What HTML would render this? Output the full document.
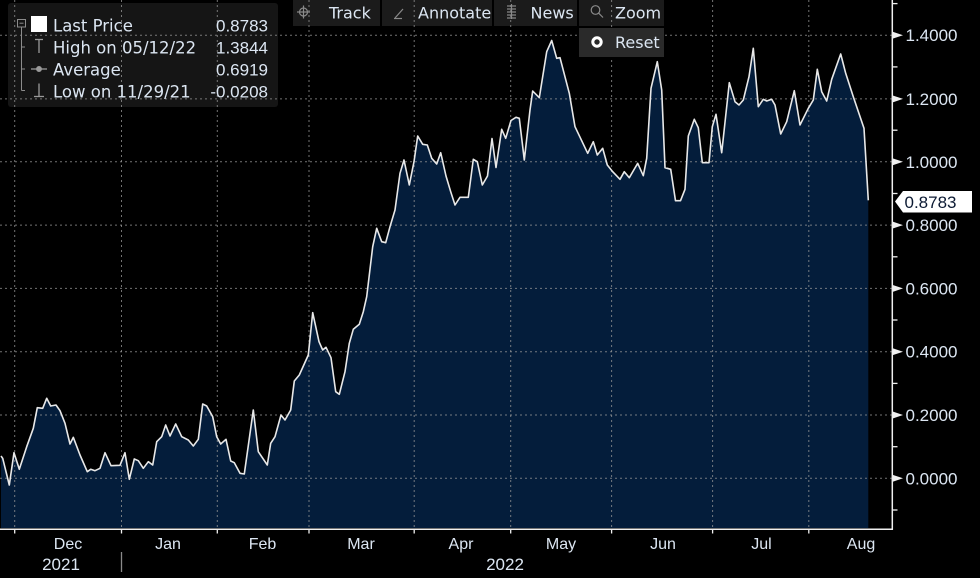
<!DOCTYPE html>
<html><head><meta charset="utf-8">
<style>
html,body{margin:0;padding:0;background:#000;}
svg{display:block;}
.t{font-family:"DejaVu Sans",sans-serif;fill:#dce6f2;}
.n{font-family:"Liberation Sans",sans-serif;fill:#dce6f2;}
</style></head>
<body>
<svg width="980" height="578" viewBox="0 0 980 578" xmlns="http://www.w3.org/2000/svg">
<rect x="0" y="0" width="980" height="578" fill="#000"/>

<!-- legend box -->
<rect x="8" y="3" width="270" height="104" rx="3" fill="#151515"/>
<!-- toolbar buttons -->
<rect x="293" y="0" width="87" height="26" fill="#1b1b1b"/>
<rect x="382" y="0" width="110" height="26" fill="#1b1b1b"/>
<rect x="494" y="0" width="83" height="26" fill="#1b1b1b"/>
<rect x="579" y="0" width="85" height="26" fill="#1b1b1b"/>

<!-- area fill -->
<path fill="#041d3b" d="M1,528 L1,456 L2.7,458.3 L9.3,485 L14,452.7 L19.3,469.3 L26.7,446.7 L33.3,428.3 L37.3,407.7 L42.7,408.3 L46.7,398.3 L50.7,406 L56,405 L60,410.7 L65,423.3 L70,444 L73.3,437.3 L80,455 L87.3,471.7 L90.7,469.3 L95,470.7 L100,468.3 L105,452.7 L111,465.7 L120,465.3 L125,452.7 L129.3,479.3 L134.3,459 L138.3,460.7 L143.3,468.3 L148.3,461.7 L152.7,465 L156.7,441.7 L161.7,436.7 L165.7,425 L170,436 L175.7,424 L181.7,436.7 L188.3,440 L193.3,446 L198.3,439.3 L202.7,404 L206.7,406 L212.7,416.7 L216.7,436.7 L220.7,444 L226,439.3 L230.7,461 L234.3,462.7 L240,473.3 L244.3,474 L253.3,410 L258.3,451.7 L267.3,465 L270.7,443.3 L275,436.7 L281,415 L285,420 L290.7,410 L294.3,381 L299.3,375 L308.3,355 L312.7,312.7 L319,341.7 L322.7,350 L326,347.3 L331,357.7 L335.7,391.7 L339.3,394.3 L345,371.7 L349.3,343.3 L353.3,329.3 L359.3,324.3 L363.3,311.7 L366.7,296.7 L372.7,246.7 L376.7,228.3 L381.7,241.7 L385.7,242.7 L390,226.7 L395,210 L400,173.3 L404,160 L409.3,185 L414,161.7 L417.7,136 L422.7,144.3 L427.3,145 L431.7,158.3 L436.7,164 L440.7,152.7 L446,176 L450.7,191.7 L455,205 L460,197.3 L468.3,197.3 L473.3,159.3 L477.3,161.7 L482.3,185 L487.5,176 L492,138.5 L496,167.5 L501.7,129.3 L505.7,138.3 L511,120.5 L516,117.3 L519.3,118.3 L524.3,160 L530,110 L532.7,91 L539.3,97.7 L546.7,51.7 L551.7,40.5 L556.7,58.3 L560,57.7 L569.3,93.3 L575,126.7 L587.7,153.3 L593.3,141.7 L597.3,155 L602.7,148.3 L607.3,165 L612.7,171.7 L620,179.3 L624.3,171.7 L629.3,177.7 L637.7,163.3 L643.3,175.7 L646.7,158.3 L651,88.3 L657.3,61.7 L661.7,90 L665,167.7 L670.7,169.3 L675.5,200.7 L680.5,200.7 L685,189.3 L688.3,136 L694.3,119.3 L698.3,127.7 L702.3,162.7 L709,162.7 L712.3,126.7 L716,114.3 L721.7,152.7 L729.3,82.7 L735,101.7 L739,105 L743.3,100 L749,76.7 L753.3,48.3 L758.3,106.7 L763.3,99.3 L766.7,101 L771.7,99.3 L775,105 L780.7,134 L786.7,121.7 L794.3,90.7 L800,125 L808.3,108.3 L813.3,100 L817.3,69.3 L821.7,91.7 L826.7,101 L831.7,79.3 L840.7,54 L845.7,73.3 L853.3,96.7 L864,128.3 L868.3,200.3 L868.3,528 Z"/>

<!-- gridlines -->
<g stroke="#9a9a9a" stroke-opacity="0.75" stroke-width="1" stroke-dasharray="2,3">
<line x1="0" y1="35.2" x2="892" y2="35.2"/>
<line x1="0" y1="98.9" x2="892" y2="98.9"/>
<line x1="0" y1="161.8" x2="892" y2="161.8"/>
<line x1="0" y1="225.1" x2="892" y2="225.1"/>
<line x1="0" y1="288.4" x2="892" y2="288.4"/>
<line x1="0" y1="351.7" x2="892" y2="351.7"/>
<line x1="0" y1="415" x2="892" y2="415"/>
<line x1="0" y1="478.3" x2="892" y2="478.3"/>
<line x1="14.7" y1="0" x2="14.7" y2="528"/>
<line x1="121.5" y1="0" x2="121.5" y2="528"/>
<line x1="217.3" y1="0" x2="217.3" y2="528"/>
<line x1="309" y1="0" x2="309" y2="528"/>
<line x1="414.2" y1="0" x2="414.2" y2="528"/>
<line x1="510.7" y1="0" x2="510.7" y2="528"/>
<line x1="611.6" y1="0" x2="611.6" y2="528"/>
<line x1="712.6" y1="0" x2="712.6" y2="528"/>
<line x1="808.8" y1="0" x2="808.8" y2="528"/>
</g>

<!-- price line -->
<path fill="none" stroke="#e8e8e8" stroke-width="1.6" stroke-linejoin="round" d="M1,456 L2.7,458.3 L9.3,485 L14,452.7 L19.3,469.3 L26.7,446.7 L33.3,428.3 L37.3,407.7 L42.7,408.3 L46.7,398.3 L50.7,406 L56,405 L60,410.7 L65,423.3 L70,444 L73.3,437.3 L80,455 L87.3,471.7 L90.7,469.3 L95,470.7 L100,468.3 L105,452.7 L111,465.7 L120,465.3 L125,452.7 L129.3,479.3 L134.3,459 L138.3,460.7 L143.3,468.3 L148.3,461.7 L152.7,465 L156.7,441.7 L161.7,436.7 L165.7,425 L170,436 L175.7,424 L181.7,436.7 L188.3,440 L193.3,446 L198.3,439.3 L202.7,404 L206.7,406 L212.7,416.7 L216.7,436.7 L220.7,444 L226,439.3 L230.7,461 L234.3,462.7 L240,473.3 L244.3,474 L253.3,410 L258.3,451.7 L267.3,465 L270.7,443.3 L275,436.7 L281,415 L285,420 L290.7,410 L294.3,381 L299.3,375 L308.3,355 L312.7,312.7 L319,341.7 L322.7,350 L326,347.3 L331,357.7 L335.7,391.7 L339.3,394.3 L345,371.7 L349.3,343.3 L353.3,329.3 L359.3,324.3 L363.3,311.7 L366.7,296.7 L372.7,246.7 L376.7,228.3 L381.7,241.7 L385.7,242.7 L390,226.7 L395,210 L400,173.3 L404,160 L409.3,185 L414,161.7 L417.7,136 L422.7,144.3 L427.3,145 L431.7,158.3 L436.7,164 L440.7,152.7 L446,176 L450.7,191.7 L455,205 L460,197.3 L468.3,197.3 L473.3,159.3 L477.3,161.7 L482.3,185 L487.5,176 L492,138.5 L496,167.5 L501.7,129.3 L505.7,138.3 L511,120.5 L516,117.3 L519.3,118.3 L524.3,160 L530,110 L532.7,91 L539.3,97.7 L546.7,51.7 L551.7,40.5 L556.7,58.3 L560,57.7 L569.3,93.3 L575,126.7 L587.7,153.3 L593.3,141.7 L597.3,155 L602.7,148.3 L607.3,165 L612.7,171.7 L620,179.3 L624.3,171.7 L629.3,177.7 L637.7,163.3 L643.3,175.7 L646.7,158.3 L651,88.3 L657.3,61.7 L661.7,90 L665,167.7 L670.7,169.3 L675.5,200.7 L680.5,200.7 L685,189.3 L688.3,136 L694.3,119.3 L698.3,127.7 L702.3,162.7 L709,162.7 L712.3,126.7 L716,114.3 L721.7,152.7 L729.3,82.7 L735,101.7 L739,105 L743.3,100 L749,76.7 L753.3,48.3 L758.3,106.7 L763.3,99.3 L766.7,101 L771.7,99.3 L775,105 L780.7,134 L786.7,121.7 L794.3,90.7 L800,125 L808.3,108.3 L813.3,100 L817.3,69.3 L821.7,91.7 L826.7,101 L831.7,79.3 L840.7,54 L845.7,73.3 L853.3,96.7 L864,128.3 L868.3,200.3"/>

<!-- axes -->
<line x1="892.3" y1="0" x2="892.3" y2="530" stroke="#f0f0f0" stroke-width="1.5"/>
<line x1="0" y1="529.3" x2="893" y2="529.3" stroke="#f0f0f0" stroke-width="1.5"/>
<g stroke="#f0f0f0" stroke-width="1.3">
<line x1="14.7" y1="529" x2="14.7" y2="533.5"/>
<line x1="121.5" y1="529" x2="121.5" y2="533.5"/>
<line x1="217.3" y1="529" x2="217.3" y2="533.5"/>
<line x1="309" y1="529" x2="309" y2="533.5"/>
<line x1="414.2" y1="529" x2="414.2" y2="533.5"/>
<line x1="510.7" y1="529" x2="510.7" y2="533.5"/>
<line x1="611.6" y1="529" x2="611.6" y2="533.5"/>
<line x1="712.6" y1="529" x2="712.6" y2="533.5"/>
<line x1="808.8" y1="529" x2="808.8" y2="533.5"/>
<!-- minor y ticks -->
<line x1="892" y1="3.6" x2="897.5" y2="3.6"/>
<line x1="892" y1="66.9" x2="897.5" y2="66.9"/>
<line x1="892" y1="130.2" x2="897.5" y2="130.2"/>
<line x1="892" y1="193.5" x2="897.5" y2="193.5"/>
<line x1="892" y1="256.8" x2="897.5" y2="256.8"/>
<line x1="892" y1="320" x2="897.5" y2="320"/>
<line x1="892" y1="383.4" x2="897.5" y2="383.4"/>
<line x1="892" y1="446.7" x2="897.5" y2="446.7"/>
<line x1="892" y1="510" x2="897.5" y2="510"/>
</g>
<g fill="#f0f0f0">
<polygon points="892,31.5 903,35.2 892,38.9"/>
<polygon points="892,95.2 903,98.9 892,102.6"/>
<polygon points="892,158.1 903,161.8 892,165.5"/>
<polygon points="892,221.4 903,225.1 892,228.8"/>
<polygon points="892,284.7 903,288.4 892,292.1"/>
<polygon points="892,348 903,351.7 892,355.4"/>
<polygon points="892,411.3 903,415 892,418.7"/>
<polygon points="892,474.6 903,478.3 892,482"/>
</g>
<g class="n" font-size="17">
<text x="905.5" y="41.2">1.4000</text>
<text x="905.5" y="104.9">1.2000</text>
<text x="905.5" y="167.8">1.0000</text>
<text x="905.5" y="231.1">0.8000</text>
<text x="905.5" y="294.4">0.6000</text>
<text x="905.5" y="357.7">0.4000</text>
<text x="905.5" y="421">0.2000</text>
<text x="905.5" y="484.3">0.0000</text>
</g>
<!-- last price tag -->
<polygon points="895,201.5 903,191 972,191 972,212.5 903,212.5" fill="#ffffff"/>
<text x="904.5" y="208" class="n" font-size="17" style="fill:#0c1a33">0.8783</text>

<!-- x labels -->
<g class="n" font-size="16" text-anchor="middle">
<text x="68" y="549">Dec</text>
<text x="168" y="549">Jan</text>
<text x="262.5" y="549">Feb</text>
<text x="361" y="549">Mar</text>
<text x="461" y="549">Apr</text>
<text x="561" y="549">May</text>
<text x="663" y="549">Jun</text>
<text x="761.5" y="549">Jul</text>
<text x="861" y="549">Aug</text>
<text x="61" y="570" font-size="17">2021</text>
<text x="505" y="570" font-size="17">2022</text>
</g>
<line x1="121.5" y1="552" x2="121.5" y2="572" stroke="#8a8a8a" stroke-width="1.3"/>

<!-- legend contents -->
<g stroke="#8c8c8c" stroke-width="1" fill="none">
<rect x="17.5" y="19.5" width="8" height="7.5"/>
<line x1="19.5" y1="23.2" x2="23.5" y2="23.2"/>
<line x1="21.5" y1="27" x2="21.5" y2="90.5"/>
<line x1="21.5" y1="47" x2="25" y2="47"/>
<line x1="21.5" y1="69" x2="25" y2="69"/>
<line x1="21.5" y1="90.5" x2="25" y2="90.5"/>
</g>
<rect x="31" y="16" width="16" height="16" fill="#ffffff"/>
<g stroke="#9a9a9a" stroke-width="1.3" fill="none">
<line x1="35" y1="39.5" x2="43" y2="39.5"/>
<line x1="39" y1="39.5" x2="39" y2="53"/>
<line x1="31" y1="69" x2="47" y2="69"/>
<circle cx="39" cy="69" r="2.3" fill="#9a9a9a"/>
<line x1="39" y1="83.5" x2="39" y2="96.5"/>
<line x1="34" y1="96.5" x2="44" y2="96.5"/>
</g>
<g class="t" font-size="16.5">
<text x="53" y="31.5">Last Price</text>
<text x="53" y="53.5">High on 05/12/22</text>
<text x="53" y="75.5">Average</text>
<text x="53" y="97.5">Low on 11/29/21</text>
</g>
<g class="n" font-size="17" text-anchor="end">
<text x="268" y="31.5">0.8783</text>
<text x="268" y="53.5">1.3844</text>
<text x="268" y="75.5">0.6919</text>
<text x="268" y="97.5">-0.0208</text>
</g>

<!-- toolbar -->
<g stroke="#8a8a8a" stroke-width="1.2" fill="none">
<circle cx="303.5" cy="12" r="4"/>
<line x1="297" y1="12" x2="310" y2="12"/>
<line x1="303.5" y1="5.5" x2="303.5" y2="18.5"/>
<line x1="395" y1="18" x2="403" y2="9"/>
<line x1="394" y1="18.5" x2="402" y2="18.5"/>
<line x1="507" y1="6" x2="516" y2="6"/>
<line x1="507" y1="9" x2="516" y2="9"/>
<line x1="507" y1="12" x2="516" y2="12"/>
<line x1="507" y1="15" x2="516" y2="15"/>
<line x1="507" y1="18" x2="516" y2="18"/>
<line x1="511.5" y1="4" x2="511.5" y2="19"/>
<circle cx="595.5" cy="10" r="4.3"/>
<line x1="598.7" y1="13.2" x2="603" y2="17.5"/>
</g>
<g class="t" font-size="16">
<text x="329" y="18.5">Track</text>
<text x="418" y="18.5">Annotate</text>
<text x="530.5" y="18.5">News</text>
<text x="615" y="18.5">Zoom</text>
</g>
<!-- reset -->
<rect x="579" y="28" width="85" height="29" fill="#2a2a2a"/>
<circle cx="597" cy="42" r="4.2" fill="none" stroke="#ffffff" stroke-width="3"/>
<text x="615" y="48" class="t" font-size="16">Reset</text>
</svg>
</body></html>
